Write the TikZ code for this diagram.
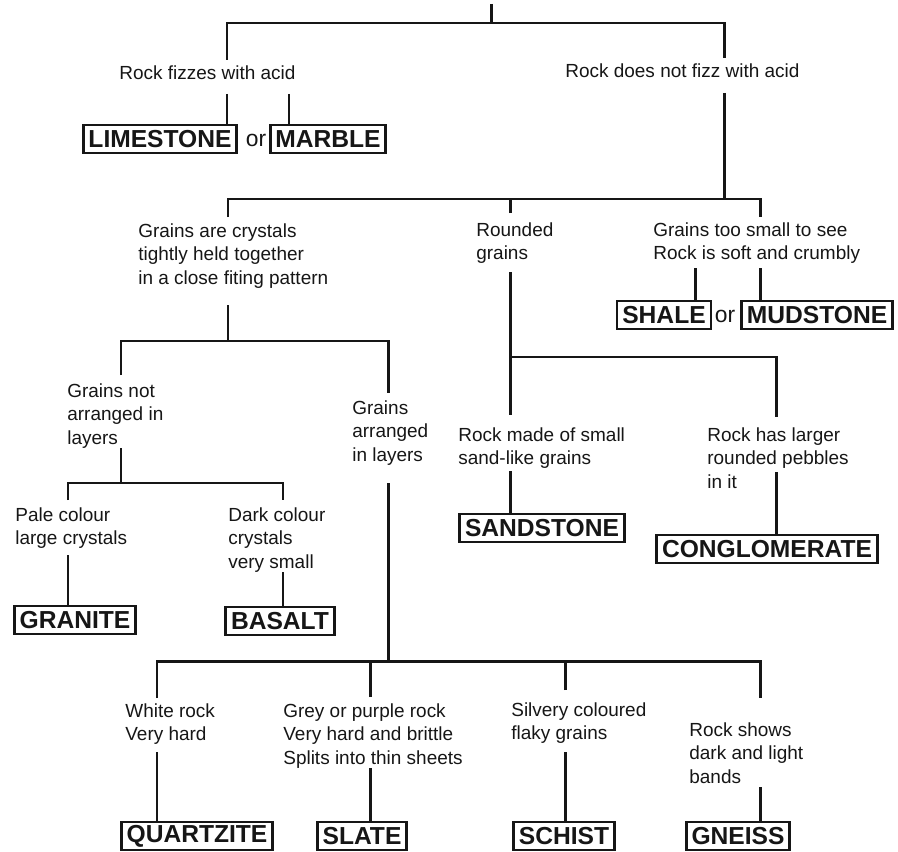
\documentclass[tikz,border=0pt]{standalone}
\usepackage{fontspec}
\setmainfont{Liberation Sans}
\usetikzlibrary{calc}
\definecolor{scanink}{RGB}{22,22,22}
\tikzset{
  link/.style={draw=scanink,line width=1.7pt},
  clue/.style={anchor=north west,inner sep=0pt,align=left,text=scanink,
    font=\fontsize{10.8}{13.4}\selectfont},
  rock/.style={draw=scanink,line width=1.6pt,text=scanink,inner xsep=3pt,inner ysep=1pt,
    minimum height=0.56cm,font=\fontsize{14}{16}\selectfont\bfseries},
  joiner/.style={text=scanink,inner sep=0pt,font=\fontsize{13}{15}\selectfont},
}

\begin{document}
\begin{tikzpicture}[x=0.02cm,y=-0.02cm]
  \useasboundingbox (0,0) rectangle (898,851);
  % questions
  \node[clue] (fizz) at (119,65) {Rock fizzes with acid};
  \node[clue] (nofizz) at (565,63) {Rock does not fizz with acid};
  \node[clue] (crystal) at (138,223) {Grains are crystals\\tightly held together\\in a close fiting pattern};
  \node[clue] (round) at (476,222) {Rounded\\grains};
  \node[clue] (tiny) at (653,222) {Grains too small to see\\Rock is soft and crumbly};
  \node[clue] (unlayer) at (67,383) {Grains not\\arranged in\\layers};
  \node[clue] (layer) at (352,400) {Grains\\arranged\\in layers};
  \node[clue] (pale) at (15,507) {Pale colour\\large crystals};
  \node[clue] (dark) at (228,507) {Dark colour\\crystals\\very small};
  \node[clue] (sandy) at (458,427) {Rock made of small\\sand-like grains};
  \node[clue] (pebble) at (707,427) {Rock has larger\\rounded pebbles\\in it};
  \node[clue] (white) at (125,703) {White rock\\Very hard};
  \node[clue] (grey) at (283,703) {Grey or purple rock\\Very hard and brittle\\Splits into thin sheets};
  \node[clue] (silver) at (511,702) {Silvery coloured\\flaky grains};
  \node[clue] (band) at (689,722) {Rock shows\\dark and light\\bands};
  % rocks
  \node[rock] (lime) at (160,139) {LIMESTONE}; \node[joiner] (or1) at (256,140) {or};
  \node[rock] (marble) at (328,139) {MARBLE};
  \node[rock] (shale) at (664,315) {SHALE}; \node[joiner] (or2) at (725,316) {or};
  \node[rock] (mud) at (817,315) {MUDSTONE};
  \node[rock] (granite) at (75,620) {GRANITE};
  \node[rock] (basalt) at (280,621) {BASALT};
  \node[rock] (sand) at (542,528) {SANDSTONE};
  \node[rock] (cong) at (767,549) {CONGLOMERATE};
  \node[rock] (quartz) at (197,836) {QUARTZITE};
  \node[rock] (slate) at (362,836) {SLATE};
  \node[rock] (schist) at (564,836) {SCHIST};
  \node[rock] (gneiss) at (738,836) {GNEISS};
  % branch points
  \coordinate (top) at (491,4); \coordinate (j0) at (491,23);
  \coordinate (a1) at (227,60); \coordinate (a2) at (724,58);
  \coordinate (c0) at (724,93); \coordinate (j1) at (724,199);
  \coordinate (c1) at (228,217); \coordinate (c2) at (510,213); \coordinate (c3) at (760,217);
  \coordinate (d0) at (228,305); \coordinate (j2) at (228,341);
  \coordinate (d1) at (121,375); \coordinate (d2) at (388,393);
  \coordinate (e0) at (510,272); \coordinate (j3) at (510,357);
  \coordinate (e1) at (510,415); \coordinate (e2) at (776,417);
  \coordinate (g0) at (121,448); \coordinate (j4) at (121,483);
  \coordinate (g1) at (68,500); \coordinate (g2) at (283,500);
  \coordinate (i0) at (388,483); \coordinate (j5) at (388,661);
  \coordinate (k1) at (157,698); \coordinate (k2) at (370,697);
  \coordinate (k3) at (565,690); \coordinate (k4) at (760,698);
  \coordinate (b1) at (227,94); \coordinate (b2) at (289,94);
  \coordinate (f1) at (695,268); \coordinate (f2) at (760,268);
  \coordinate (h1) at (68,555); \coordinate (h2) at (283,572);
  \coordinate (m1) at (510,471); \coordinate (m2) at (776,472);
  \coordinate (n1) at (157,752); \coordinate (n2) at (370,768);
  \coordinate (n3) at (565,752); \coordinate (n4) at (760,787);
  % tree
  \draw[link] (top) -- (j0); \draw[link] (a1) |- (j0) -| (a2);
  \draw[link] (c0) -- (j1); \draw[link] (c1) |- (j1) -| (c3); \draw[link] (c2) -- (c2 |- j1);
  \draw[link] (d0) -- (j2); \draw[link] (d1) |- (j2) -| (d2);
  \draw[link] (e0) -- (e1); \draw[link] (j3) -| (e2);
  \draw[link] (g0) -- (j4); \draw[link] (g1) |- (j4) -| (g2);
  \draw[link] (i0) -- (j5); \draw[link] (k1) |- (j5) -| (k4);
  \draw[link] (k2) -- (k2 |- j5); \draw[link] (k3) -- (k3 |- j5);
  \foreach \c/\r in {b1/lime,b2/marble,f1/shale,f2/mud,h1/granite,h2/basalt,
      m1/sand,m2/cong,n1/quartz,n2/slate,n3/schist,n4/gneiss}
    \draw[link] (\c) -- (\r.north -| \c);
\end{tikzpicture}
\end{document}
